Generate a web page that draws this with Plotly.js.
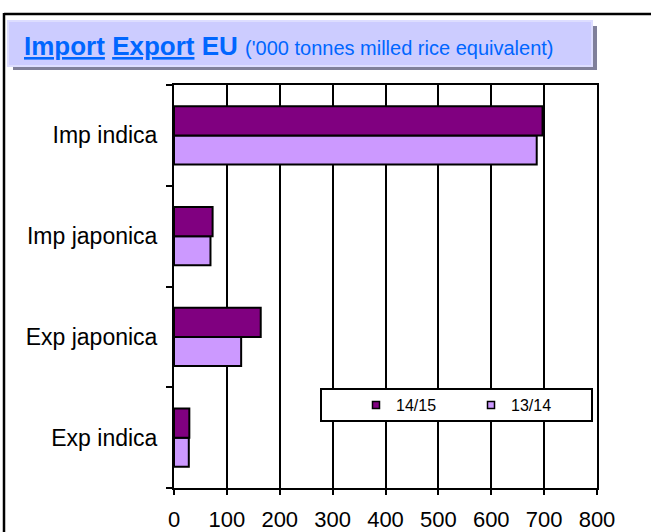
<!DOCTYPE html>
<html>
<head>
<meta charset="utf-8">
<script src="https://cdn.plot.ly/plotly-3.0.1.min.js"></script>
<style>
  body { margin: 0; background: #fff; }
  #chart { width: 651px; height: 532px; }
</style>
</head>
<body>
<div id="chart"></div>
<script>
// categories listed bottom -> top (plotly draws the first category at the bottom)
const categories = ['Exp indica', 'Exp japonica', 'Imp japonica', 'Imp indica'];
const season1415 = [29, 164, 73, 697];
const season1314 = [28, 127, 69, 686];
const xTicks = [0, 100, 200, 300, 400, 500, 600, 700, 800];

// plot area in pixels, used to place the frame / title box / legend box
const L = 174, R = 54, T = 85, B = 44, W = 651, H = 532;
const pw = W - L - R, ph = H - T - B;
const px = v => (v - L) / pw;
const py = v => (H - B - v) / ph;

const font = 'Liberation Sans, Arial, sans-serif';

const traces = [
  {
    type: 'bar', orientation: 'h', name: '13/14',
    y: categories, x: season1314,
    marker: { color: '#CC99FF', line: { color: '#000', width: 2 } },
    showlegend: false
  },
  {
    type: 'bar', orientation: 'h', name: '14/15',
    y: categories, x: season1415,
    marker: { color: '#800080', line: { color: '#000', width: 2 } },
    showlegend: false
  },
  // legend-only entries (small square keys like the original)
  {
    type: 'scatter', mode: 'markers', name: '14/15', x: [null], y: [null],
    marker: { symbol: 'square', size: 7, color: '#800080', line: { color: '#000', width: 1.5 } }
  },
  {
    type: 'scatter', mode: 'markers', name: '13/14', x: [null], y: [null],
    marker: { symbol: 'square', size: 7, color: '#CC99FF', line: { color: '#000', width: 1.5 } }
  }
];

const layout = {
  width: W, height: H,
  margin: { l: L, r: R, t: T, b: B },
  paper_bgcolor: '#fff', plot_bgcolor: '#fff',
  font: { family: font, color: '#000' },
  barmode: 'group', bargap: 0.42, bargroupgap: 0,
  showlegend: true,
  legend: {
    orientation: 'h', x: px(356), xanchor: 'left', y: py(405), yanchor: 'middle',
    bgcolor: 'rgba(0,0,0,0)', borderwidth: 0,
    entrywidth: 70, entrywidthmode: 'pixels',
    font: { size: 16, family: font }
  },
  xaxis: {
    range: [0, 800], tickvals: xTicks, ticktext: xTicks.map(String),
    showgrid: true, gridcolor: '#000', gridwidth: 2,
    showline: true, linecolor: '#000', linewidth: 2, mirror: true,
    ticks: 'outside', ticklen: 5, tickwidth: 2, tickcolor: '#000',
    ticklabelstandoff: 6,
    tickfont: { size: 22, family: font },
    zeroline: false, fixedrange: true
  },
  yaxis: {
    type: 'category', categoryorder: 'array', categoryarray: categories,
    showline: true, linecolor: '#000', linewidth: 2, mirror: true,
    ticks: 'outside', tickson: 'boundaries', ticklen: 6, tickwidth: 2, tickcolor: '#000',
    ticklabelstandoff: 10,
    tickfont: { size: 23, family: font },
    showgrid: false, zeroline: false, fixedrange: true
  },
  shapes: [
    // outer frame
    { type: 'line', xref: 'paper', yref: 'paper', x0: px(4), x1: px(4), y0: py(13), y1: py(540),
      line: { color: '#000', width: 2.5 } },
    { type: 'line', xref: 'paper', yref: 'paper', x0: px(4), x1: px(660), y0: py(14), y1: py(14),
      line: { color: '#000', width: 2.5 } },
    // title box shadow + box
    { type: 'rect', xref: 'paper', yref: 'paper', x0: px(13), x1: px(597), y0: py(26), y1: py(70),
      fillcolor: '#80809A', line: { width: 0 } },
    { type: 'rect', xref: 'paper', yref: 'paper', x0: px(8), x1: px(592), y0: py(21), y1: py(66),
      fillcolor: '#CCCCFF', line: { color: '#DDDDFF', width: 2 } },
    // legend box
    { type: 'rect', xref: 'paper', yref: 'paper', x0: px(321), x1: px(592), y0: py(389), y1: py(421),
      fillcolor: '#fff', line: { color: '#000', width: 2 }, layer: 'above' }
  ],
  annotations: [
    {
      xref: 'paper', yref: 'paper', x: px(22), y: py(46), xanchor: 'left', yanchor: 'middle',
      showarrow: false, align: 'left',
      font: { family: font, size: 26, color: '#0066FF' },
      text: "<b><u>Import</u> <u>Export</u> EU</b> <span style='font-size:20px'>('000 tonnes milled rice equivalent)</span>"
    }
  ]
};

Plotly.newPlot('chart', traces, layout, { staticPlot: true });
</script>
</body>
</html>
